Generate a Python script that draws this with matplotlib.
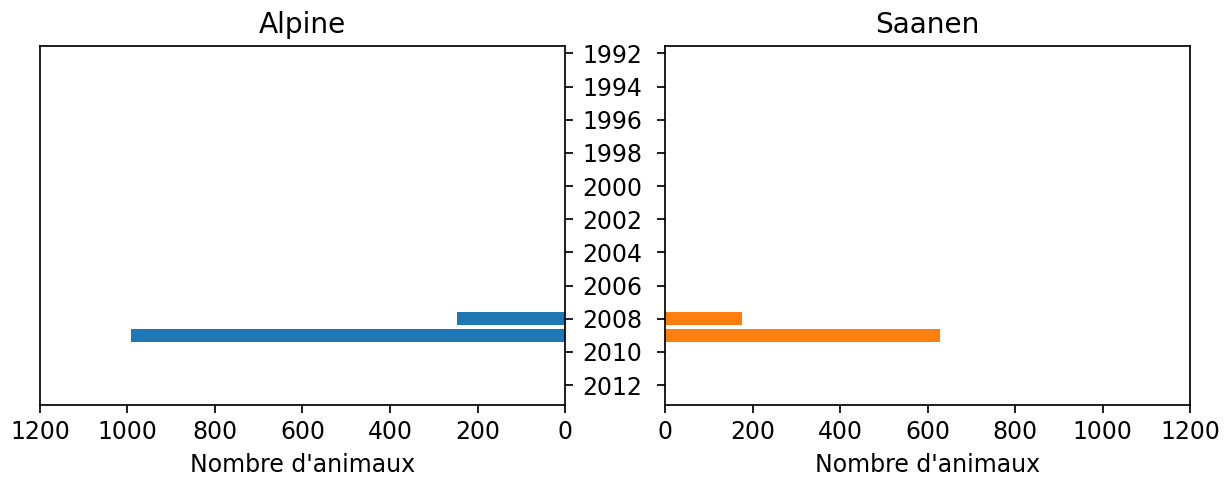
import matplotlib
matplotlib.use("Agg")
import numpy as np
import matplotlib.pyplot as plt

# data
years = [2008, 2009]
alpine = [247, 992]
saanen = [176, 629]
year_ticks = list(range(1992, 2013, 2))
x_ticks = [0, 200, 400, 600, 800, 1000, 1200]

dpi = 155
fig = plt.figure(figsize=(1228 / dpi, 482 / dpi), dpi=dpi)

W, H = 1228, 482
ax1 = fig.add_axes([40 / W, (H - 405) / H, 525 / W, 359 / H])
ax2 = fig.add_axes([665 / W, (H - 405) / H, 525 / W, 359 / H])

ax1.barh(years, alpine, color="C0", height=0.8)
ax2.barh(years, saanen, color="C1", height=0.8)

for ax in (ax1, ax2):
    ax.set_ylim(2013.2, 1991.55)
    ax.set_xticks(x_ticks)
    ax.set_yticks(year_ticks)
    ax.set_xlabel("Nombre d'animaux", fontsize=11)
    ax.tick_params(labelsize=11)

ax1.set_xlim(1200, 0)
ax2.set_xlim(0, 1200)

# years written once, between the two panels
ax1.yaxis.tick_right()
ax1.set_yticklabels([str(y) for y in year_ticks])
ax1.tick_params(axis="y", pad=4.5)
ax2.tick_params(axis="y", labelleft=False)

ax1.set_title("Alpine", fontsize=13)
ax2.set_title("Saanen", fontsize=13)

fig.savefig("out.png", dpi=dpi)
